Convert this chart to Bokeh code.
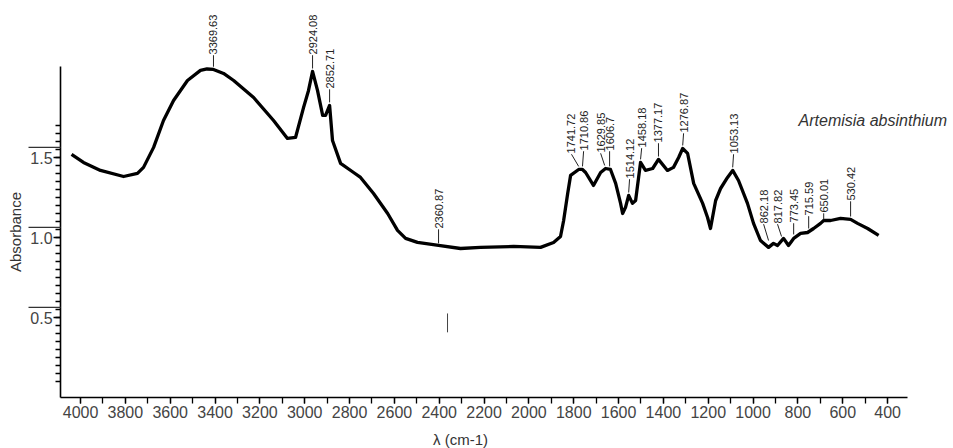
import numpy as np
from bokeh.plotting import figure
from bokeh.models import (Range1d, SingleIntervalTicker, FixedTicker, LabelSet, Label,
                          Arrow, ColumnDataSource, PrintfTickFormatter)
from bokeh.core.properties import value
from bokeh.embed import file_html
from bokeh.resources import INLINE

# ---- spectrum (wavenumber cm-1, absorbance) ----
wavenumber = [4040, 3987, 3911, 3808, 3746, 3719, 3674, 3630, 3585, 3523, 3465, 3436, 3407,
              3362, 3317, 3228, 3139, 3077, 3041, 3005, 2983, 2965, 2943, 2920, 2907, 2889,
              2876, 2840, 2782, 2751, 2693, 2630, 2586, 2550, 2497, 2403, 2305, 2216,
              2068, 1948, 1890, 1859, 1845, 1827, 1814, 1778, 1761, 1747, 1712, 1680,
              1658, 1636, 1613, 1591, 1582, 1569, 1555, 1538, 1524, 1502, 1480, 1448,
              1422, 1382, 1355, 1332, 1314, 1292, 1265, 1225, 1203, 1190, 1167, 1145,
              1114, 1091, 1065, 1025, 998, 967, 931, 909, 891, 864, 842, 819, 788, 757,
              730, 699, 685, 654, 610, 565, 534, 489, 440]
absorbance = [1.522, 1.472, 1.422, 1.384, 1.403, 1.441, 1.566, 1.734, 1.859, 1.984, 2.047, 2.056, 2.053,
              2.028, 1.984, 1.878, 1.734, 1.622, 1.628, 1.816, 1.922, 2.041, 1.922, 1.766, 1.766, 1.828,
              1.609, 1.466, 1.409, 1.378, 1.278, 1.153, 1.047, 0.997, 0.972, 0.953, 0.934, 0.941,
              0.947, 0.941, 0.972, 1.009, 1.109, 1.278, 1.391, 1.428, 1.428, 1.409, 1.328, 1.409,
              1.434, 1.428, 1.341, 1.216, 1.153, 1.191, 1.266, 1.216, 1.234, 1.472, 1.422, 1.434,
              1.491, 1.422, 1.441, 1.503, 1.559, 1.528, 1.341, 1.216, 1.128, 1.059, 1.234, 1.309,
              1.378, 1.422, 1.359, 1.216, 1.091, 0.984, 0.941, 0.966, 0.953, 0.997, 0.953, 0.997,
              1.028, 1.034, 1.059, 1.091, 1.109, 1.109, 1.122, 1.116, 1.091, 1.059, 1.016]

# ---- peak annotations ----
peak_text = ["3369.63", "2924.08", "2852.71", "2360.87", "1741.72", "1710.86", "1629.85",
             "1606.7", "1514.12", "1458.18", "1377.17", "1276.87", "1053.13", "862.18",
             "817.82", "773.45", "715.59", "650.01", "530.42"]
label_x = [3407, 2965, 2889, 2403, 1810, 1756, 1680, 1640, 1551, 1497, 1422, 1310, 1087,
           953, 891, 819, 752, 685, 565]
label_y = [2.147, 2.147, 1.934, 1.059, 1.528, 1.547, 1.534, 1.547, 1.372, 1.566, 1.597,
           1.659, 1.528, 1.091, 1.091, 1.097, 1.141, 1.159, 1.234]
peak_x = [3407, 2965, 2889, 2403, 1778, 1761, 1662, 1640, 1555, 1502, 1422, 1314, 1091,
          931, 873, 819, 752, 685, 565]
peak_y = [2.070, 2.059, 1.847, 0.966, 1.447, 1.447, 1.453, 1.447, 1.284, 1.491, 1.509,
          1.578, 1.441, 0.984, 1.009, 1.022, 1.059, 1.116, 1.134]

y_ticks = [0.5, 1.0, 1.5]
x_tick_interval = 200
x_bounds = (311, 4089)
y_bounds = (0.0, 2.07)
sample_name = "Artemisia absinthium"
x_title = "λ (cm-1)"
y_title = "Absorbance"

p = figure(width=953, height=448, output_backend="svg", toolbar_location=None,
           x_range=Range1d(4357, 106), y_range=Range1d(-0.316, 2.484),
           min_border_left=0, min_border_right=0, min_border_top=0, min_border_bottom=0)
p.background_fill_color = "white"
p.border_fill_color = "white"
p.outline_line_color = None
p.grid.visible = False

FONT = "Liberation Sans"

xa = p.xaxis[0]
ya = p.yaxis[0]
xa.fixed_location = y_bounds[0]
ya.fixed_location = x_bounds[1]
xa.bounds = x_bounds
ya.bounds = y_bounds
xa.ticker = SingleIntervalTicker(interval=x_tick_interval, num_minor_ticks=2)
ya.ticker = FixedTicker(ticks=y_ticks,
                        minor_ticks=[round(v, 2) for v in np.arange(0.1, 1.71, 0.05)])
ya.formatter = PrintfTickFormatter(format="%.1f")
ya.axis_label = y_title
ya.axis_label_text_font = FONT
ya.axis_label_text_font_size = "15px"
ya.axis_label_text_font_style = "normal"
ya.axis_label_text_color = "#333333"
ya.axis_label_standoff = 3

for ax in (xa, ya):
    ax.axis_line_color = "black"
    ax.axis_line_width = 1.6
    ax.major_tick_line_color = "black"
    ax.minor_tick_line_color = "black"
    ax.major_tick_line_width = 1.3
    ax.minor_tick_line_width = 1.3
    ax.major_tick_in = 0
    ax.minor_tick_in = 0
    ax.major_label_text_font = FONT
    ax.major_label_text_font_size = "16px"
    ax.major_label_text_color = "#444444"

xa.major_tick_out = 6
xa.minor_tick_out = 6
xa.major_label_standoff = 2
ya.major_tick_out = 7
ya.minor_tick_out = 5
ya.major_label_standoff = 1

# spectrum
p.line(wavenumber, absorbance, line_width=3.3, line_color="black", line_join="round")

# peak leaders
for lx, ly, px, py in zip(label_x, label_y, peak_x, peak_y):
    p.add_layout(Arrow(end=None, x_start=lx, y_start=ly - 0.005, x_end=px, y_end=py,
                       line_color="#222222", line_width=1))

# peak labels
src = ColumnDataSource(dict(x=label_x, y=label_y, t=peak_text))
p.add_layout(LabelSet(x="x", y="y", text="t", source=src, angle=np.pi / 2,
                      text_align="left", text_baseline="middle",
                      text_font=value(FONT), text_font_size="11px", text_color="#222222"))

# small stray mark below 2360
p.add_layout(Arrow(end=None, x_start=2363, y_start=0.528, x_end=2363, y_end=0.41,
                   line_color="#444444", line_width=1))

# overlines above y tick labels
for yt in y_ticks:
    p.add_layout(Arrow(end=None, x_start=4232, y_start=yt + 0.066, x_end=x_bounds[1],
                       y_end=yt + 0.066, line_color="#333333", line_width=1.2))

# sample name
p.add_layout(Label(x=797, y=1.734, text=sample_name, text_align="left",
                   text_baseline="middle", text_font=FONT, text_font_size="16px",
                   text_font_style="italic", text_color="#333333"))

# x axis title
p.add_layout(Label(x=2305, y=-0.259, text=x_title, text_align="center",
                   text_baseline="middle", text_font=FONT, text_font_size="15px",
                   text_color="#333333"))

open("out.html", "w").write(file_html(p, INLINE))
